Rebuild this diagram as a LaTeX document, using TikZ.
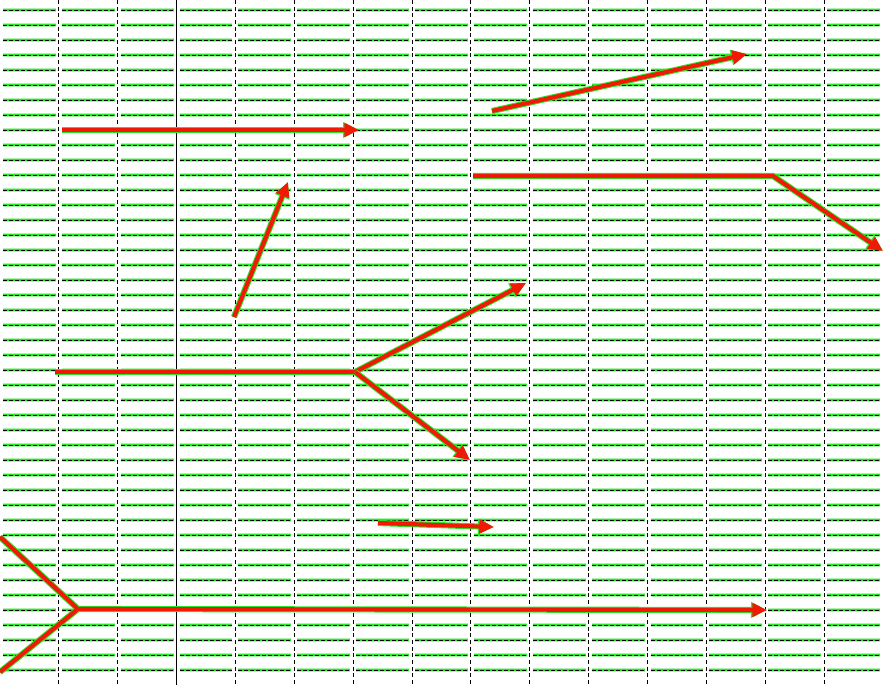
\documentclass[tikz,border=0pt]{standalone}
\usetikzlibrary{arrows.meta}
\definecolor{gridgreen}{RGB}{40,230,40}
\definecolor{arrred}{RGB}{240,25,5}

\begin{document}
\begin{tikzpicture}[
    x=0.75pt, y=-0.75pt,
    hline/.style={draw=black, line width=0.6pt, dash pattern=on 3pt off 1.5pt,
        preaction={draw=gridgreen!40, line width=2.6pt, solid},
        preaction={draw=gridgreen, line width=1.7pt, solid}},
    vline/.style={draw=black, line width=0.75pt, dash pattern=on 3pt off 2pt},
    link/.style={draw=arrred, line width=3.1pt, line join=round,
        preaction={draw=gridgreen, line width=4.6pt}},
    arrow/.style={draw=arrred, line width=3.1pt, line join=round,
        -{Triangle[length=11pt,width=10pt]},
        preaction={draw=gridgreen, line width=4.6pt, -{Triangle[length=12pt,width=11pt]}}}
]
\useasboundingbox (0,0) rectangle (883,685);
\fill[white] (0,0) rectangle (883,685);

% grid
\foreach \r in {0,...,44} {
  \foreach \c in {0,...,14} {
    \draw[hline] ({max(\c*58.87+3,1)},{10+15*\r}) -- ({min(\c*58.87+55.87,883)},{10+15*\r});
  }
}
\foreach \c in {1,2,4,5,...,14} {
  \draw[vline] ({\c*58.87},0) -- ({\c*58.87},685);
}
\draw[black, line width=0.75pt] (176.6,0) -- (176.6,685);

% points
\coordinate (a1) at (62,130);
\coordinate (a2) at (359,130);
\coordinate (b1) at (492,111);
\coordinate (b2) at (747,54);
\coordinate (c1) at (473,176);
\coordinate (c2) at (773,176);
\coordinate (c3) at (883,251);
\coordinate (d1) at (234,317);
\coordinate (d2) at (288,182);
\coordinate (e1) at (55,372);
\coordinate (e2) at (355,372);
\coordinate (e3) at (526,283);
\coordinate (e4) at (470,460);
\coordinate (f1) at (378,523);
\coordinate (f2) at (494,527);
\coordinate (g1) at (0,537);
\coordinate (g2) at (78,609);
\coordinate (g3) at (0,672);
\coordinate (g4) at (767,610);

% arrows
\draw[arrow] (a1) -- (a2);
\draw[arrow] (b1) -- (b2);
\draw[arrow] (c1) -- (c2) -- (c3);
\draw[arrow] (d1) -- (d2);
\draw[link] (e1) -- (e2);
\draw[arrow] (e2) -- (e3);
\draw[arrow] (e2) -- (e4);
\draw[arrow] (f1) -- (f2);
\draw[link] (g1) -- (g2) -- (g3);
\draw[arrow] (g2) -- (g4);

\end{tikzpicture}
\end{document}
